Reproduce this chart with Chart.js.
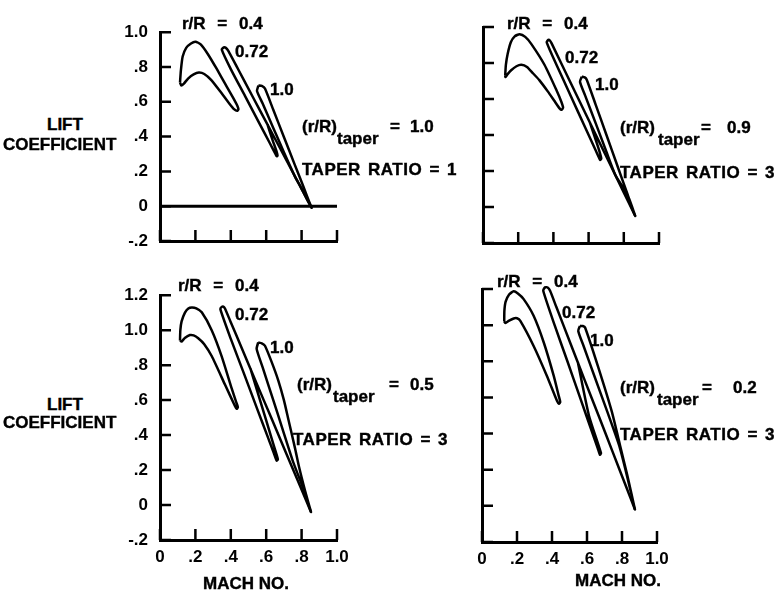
<!DOCTYPE html>
<html>
<head>
<meta charset="utf-8">
<script src="https://cdn.jsdelivr.net/npm/chart.js@4.4.1/dist/chart.umd.min.js"></script>
<style>
  body { margin: 0; background: #fff; width: 781px; height: 597px; position: relative; overflow: hidden; }
  canvas { position: absolute; }
  .t { position: absolute; font: bold 17px "Liberation Sans", Arial, sans-serif; line-height: 17px; white-space: pre; color: #000; -webkit-text-stroke: 0.4px #000; }
</style>
</head>
<body>
<canvas id="tl" width="257" height="271" style="left:100px;top:10px"></canvas>
<canvas id="tr" width="256" height="271" style="left:423px;top:12px"></canvas>
<canvas id="bl" width="257" height="307" style="left:100px;top:273px"></canvas>
<canvas id="br" width="255" height="308" style="left:422px;top:274px"></canvas>
<script>
// tick labels
const machTicks = ["0", ".2", ".4", ".6", ".8", "1.0"];
const liftTicksTop = ["-.2", "0", ".2", ".4", ".6", ".8", "1.0"];
const liftTicksBottom = ["-.2", "0", ".2", ".4", ".6", ".8", "1.0", "1.2"];

// [mach, lift coefficient]
// (r/R)taper = 1.0, taper ratio 1
const tl04 = [[0.113,0.71],[0.118,0.78],[0.128,0.86],[0.148,0.91],[0.175,0.935],[0.2,0.945],[0.23,0.93],[0.27,0.875],[0.32,0.79],[0.37,0.70],[0.415,0.62],[0.438,0.575],[0.443,0.556],[0.435,0.548],[0.42,0.556],[0.39,0.592],[0.34,0.66],[0.29,0.725],[0.25,0.76],[0.22,0.768],[0.19,0.758],[0.16,0.735],[0.135,0.705],[0.12,0.694],[0.113,0.71]];
const tl072 = [[0.857,-0.01],[0.81,0.08],[0.75,0.195],[0.68,0.33],[0.60,0.483],[0.52,0.636],[0.44,0.79],[0.386,0.893],[0.372,0.91],[0.36,0.912],[0.349,0.9],[0.40,0.788],[0.48,0.634],[0.56,0.479],[0.62,0.363],[0.65,0.305],[0.659,0.287],[0.664,0.29],[0.66,0.31],[0.636,0.38],[0.607,0.47]];
const tl10 = [[0.556,0.694],[0.575,0.692],[0.593,0.676],[0.64,0.554],[0.70,0.398],[0.76,0.242],[0.81,0.113],[0.845,0.02],[0.857,-0.009],[0.83,0.04],[0.79,0.12],[0.764,0.167],[0.70,0.31],[0.64,0.45],[0.58,0.59],[0.548,0.662],[0.556,0.694]];
const tlZero = [[0,0],[1,0]];

// (r/R)taper = 0.9, taper ratio 3
const tr04 = [[0.126,0.73],[0.13,0.79],[0.14,0.85],[0.158,0.915],[0.18,0.948],[0.208,0.96],[0.24,0.945],[0.275,0.905],[0.35,0.789],[0.417,0.65],[0.445,0.585],[0.455,0.552],[0.447,0.54],[0.435,0.548],[0.405,0.59],[0.369,0.641],[0.32,0.705],[0.284,0.743],[0.25,0.778],[0.218,0.79],[0.19,0.782],[0.16,0.76],[0.14,0.738],[0.128,0.722],[0.126,0.73]];
const tr072 = [[0.865,-0.05],[0.79,0.1],[0.691,0.3],[0.592,0.5],[0.493,0.7],[0.39,0.909],[0.38,0.925],[0.371,0.928],[0.362,0.915],[0.42,0.785],[0.50,0.614],[0.58,0.443],[0.64,0.315],[0.66,0.272],[0.665,0.261],[0.672,0.27],[0.655,0.33],[0.607,0.47]];
const tr10 = [[0.561,0.724],[0.578,0.72],[0.59,0.706],[0.64,0.569],[0.70,0.404],[0.76,0.239],[0.82,0.074],[0.865,-0.05],[0.80,0.10],[0.752,0.178],[0.70,0.31],[0.64,0.466],[0.58,0.62],[0.551,0.696],[0.561,0.724]];

// (r/R)taper = 0.5, taper ratio 3
const bl04 = [[0.113,0.94],[0.115,1.0],[0.122,1.05],[0.141,1.1],[0.16,1.124],[0.18,1.13],[0.205,1.125],[0.236,1.102],[0.292,1.0],[0.348,0.852],[0.405,0.667],[0.43,0.59],[0.44,0.56],[0.433,0.55],[0.424,0.565],[0.367,0.689],[0.292,0.852],[0.25,0.92],[0.216,0.954],[0.19,0.97],[0.169,0.972],[0.14,0.955],[0.122,0.935],[0.113,0.94]];
const bl072 = [[0.853,-0.04],[0.795,0.1],[0.711,0.3],[0.628,0.5],[0.544,0.7],[0.461,0.9],[0.398,1.05],[0.367,1.124],[0.358,1.135],[0.349,1.133],[0.341,1.12],[0.40,0.95],[0.475,0.75],[0.549,0.55],[0.605,0.4],[0.642,0.3],[0.659,0.254],[0.666,0.262],[0.64,0.35],[0.565,0.6],[0.511,0.78]];
const bl10 = [[0.555,0.93],[0.575,0.925],[0.593,0.911],[0.63,0.82],[0.668,0.713],[0.70,0.60],[0.725,0.491],[0.763,0.324],[0.785,0.22],[0.82,0.08],[0.853,-0.04],[0.80,0.12],[0.753,0.244],[0.70,0.41],[0.64,0.6],[0.58,0.787],[0.546,0.893],[0.555,0.93]];

// (r/R)taper = 0.2, taper ratio 3
const br04 = [[0.127,1.02],[0.128,1.08],[0.135,1.13],[0.155,1.17],[0.181,1.187],[0.205,1.175],[0.238,1.144],[0.295,1.052],[0.353,0.904],[0.41,0.719],[0.438,0.61],[0.447,0.575],[0.44,0.565],[0.429,0.58],[0.371,0.719],[0.295,0.885],[0.219,1.024],[0.2,1.038],[0.181,1.037],[0.155,1.025],[0.133,1.012],[0.127,1.02]];
const br072 = [[0.874,-0.02],[0.826,0.1],[0.746,0.3],[0.666,0.5],[0.585,0.7],[0.505,0.9],[0.425,1.1],[0.389,1.19],[0.375,1.208],[0.36,1.209],[0.35,1.19],[0.415,1.0],[0.488,0.8],[0.56,0.6],[0.632,0.4],[0.661,0.32],[0.674,0.283],[0.68,0.292],[0.611,0.5],[0.548,0.793]];
const br10 = [[0.56,0.996],[0.576,0.995],[0.589,0.987],[0.665,0.765],[0.741,0.524],[0.79,0.33],[0.83,0.17],[0.874,-0.02],[0.83,0.16],[0.785,0.33],[0.72,0.51],[0.64,0.724],[0.58,0.886],[0.55,0.968],[0.56,0.996]];

Chart.defaults.font.family = '"Liberation Sans", Arial, sans-serif';
Chart.defaults.color = "#000";

// tick marks point into the plot, like the original
const inwardTicks = {
  id: "inwardTicks",
  afterDatasetsDraw(chart) {
    const { ctx, chartArea: a, scales: { x, y } } = chart;
    ctx.save();
    ctx.strokeStyle = "#000";
    ctx.lineWidth = 2.5;
    ctx.beginPath();
    x.ticks.forEach(t => {
      const p = x.getPixelForValue(t.value);
      ctx.moveTo(p, a.bottom);
      ctx.lineTo(p, a.bottom - 11);
    });
    y.ticks.forEach(t => {
      const p = y.getPixelForValue(t.value);
      ctx.moveTo(a.left, p);
      ctx.lineTo(a.left + 11, p);
    });
    ctx.stroke();
    ctx.restore();
  }
};

function drawPanel(id, curves, yMax, yLabels, showX, showY) {
  const datasets = curves.map(c => ({
    data: c.pts.map(p => ({ x: p[0], y: p[1] })),
    showLine: true,
    borderColor: "#000",
    borderWidth: c.w || 2.5,
    pointRadius: 0,
    tension: c.straight ? 0 : 0.2,
    fill: false,
    clip: false
  }));
  const tickFont = { size: 17, weight: "bold" };
  new Chart(document.getElementById(id), {
    type: "scatter",
    data: { datasets },
    options: {
      responsive: false,
      animation: false,
      layout: { padding: { top: 15, right: 20, bottom: 0, left: 0 } },
      plugins: { legend: { display: false }, tooltip: { enabled: false } },
      scales: {
        x: {
          type: "linear", min: 0, max: 1,
          afterFit: s => { s.height = 40; },
          grid: { display: false, drawTicks: false },
          border: { display: true, color: "#000", width: 3 },
          ticks: { stepSize: 0.2, display: showX, padding: 7, font: tickFont, maxRotation: 0, autoSkip: false,
                   callback: (v, i) => machTicks[i] }
        },
        y: {
          type: "linear", min: -0.2, max: yMax,
          afterFit: s => { s.width = 60; },
          grid: { display: false, drawTicks: false },
          border: { display: true, color: "#000", width: 3 },
          ticks: { stepSize: 0.2, display: showY, padding: 12, font: tickFont, autoSkip: false,
                   callback: (v, i) => yLabels[i] }
        }
      }
    },
    plugins: [inwardTicks]
  });
}

drawPanel("tl", [{ pts: tl04 }, { pts: tl072 }, { pts: tl10 }, { pts: tlZero, straight: true, w: 3 }], 1.0, liftTicksTop, false, true);
drawPanel("tr", [{ pts: tr04 }, { pts: tr072 }, { pts: tr10 }], 1.0, liftTicksTop, false, false);
drawPanel("bl", [{ pts: bl04 }, { pts: bl072 }, { pts: bl10 }], 1.2, liftTicksBottom, true, true);
drawPanel("br", [{ pts: br04 }, { pts: br072 }, { pts: br10 }], 1.2, liftTicksBottom, true, false);

// text on the figure: [text, left, cap top]
const notes = [
  ["LIFT", 47, 118], ["COEFFICIENT", 3, 138],
  ["r/R = 0.4", 182, 17], ["0.72", 235, 45], ["1.0", 270, 83],
  ["(r/R)", 302, 120], ["taper", 337, 132], ["=", 390, 120], ["1.0", 410, 120], ["TAPER RATIO = 1", 302, 163],
  ["r/R = 0.4", 507, 17], ["0.72", 565, 51], ["1.0", 595, 78],
  ["(r/R)", 620, 121], ["taper", 658, 133], ["=", 701, 121], ["0.9", 727, 121], ["TAPER RATIO = 3", 620, 166],
  ["LIFT", 47, 398], ["COEFFICIENT", 3, 416],
  ["r/R = 0.4", 178, 279], ["0.72", 235, 308], ["1.0", 270, 341],
  ["(r/R)", 297, 378], ["taper", 333, 390], ["=", 389, 378], ["0.5", 410, 378], ["TAPER RATIO = 3", 293, 433],
  ["MACH NO.", 203, 577],
  ["r/R = 0.4", 497, 275], ["0.72", 562, 306], ["1.0", 590, 334],
  ["(r/R)", 620, 381], ["taper", 657, 393], ["=", 702, 381], ["0.2", 733, 381], ["TAPER RATIO = 3", 620, 428],
  ["MACH NO.", 575, 574]
];
notes.forEach(([txt, x, y]) => {
  const d = document.createElement("div");
  d.className = "t";
  d.textContent = txt;
  d.style.left = x + "px";
  d.style.top = (y - 2) + "px";
  if (txt.startsWith("r/R")) d.style.wordSpacing = "7px";
  if (txt.startsWith("TAPER")) { d.style.letterSpacing = "0.5px"; d.style.wordSpacing = "2px"; }
  document.body.appendChild(d);
});
</script>
</body>
</html>
